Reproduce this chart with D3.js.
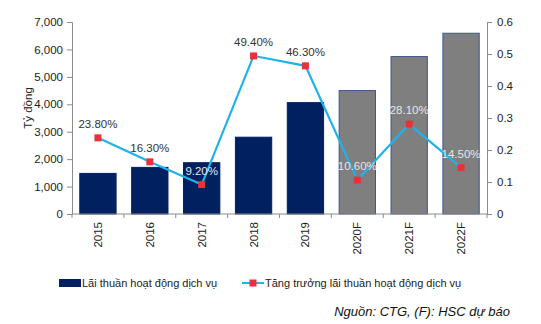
<!DOCTYPE html>
<html>
<head>
<meta charset="utf-8">
<script src="https://cdn.jsdelivr.net/npm/d3@7"></script>
<style>
  body { margin: 0; background: #fff; }
  svg { display: block; font-family: "Liberation Sans", Arial, sans-serif; }
</style>
</head>
<body>
<div class="chart"></div>
<script>
// years, service income (bn VND) and its growth rate
var years = ["2015", "2016", "2017", "2018", "2019", "2020F", "2021F", "2022F"];
var income = [1480, 1700, 1870, 2800, 4060, 4500, 5740, 6590];
var growth = [0.238, 0.163, 0.092, 0.494, 0.463, 0.106, 0.281, 0.145];
var growthLabels = ["23.80%", "16.30%", "9.20%", "49.40%", "46.30%", "10.60%", "28.10%", "14.50%"];
var leftTicks = [0, 1000, 2000, 3000, 4000, 5000, 6000, 7000];
var rightTicks = [0, 0.1, 0.2, 0.3, 0.4, 0.5, 0.6];

var W = 541, H = 324;
var m = {left: 72, right: 54, top: 22, bottom: 110};
var iw = W - m.left - m.right, ih = H - m.top - m.bottom;

var svg = d3.select(".chart").append("svg")
  .attr("width", W)
  .attr("height", H);

var g = svg.append("g").attr("transform", "translate(" + m.left + "," + m.top + ")");

var x = d3.scaleBand().domain(years).range([0, iw]).paddingInner(0.3).paddingOuter(0.15);
var y = d3.scaleLinear().domain([0, 7000]).range([ih, 0]);
var y2 = d3.scaleLinear().domain([0, 0.6]).range([ih, 0]);

var axisColor = "#8c8c8c";

// bars: actuals navy, forecasts gray
g.selectAll("rect.bar").data(years).enter().append("rect")
  .attr("class", "bar")
  .attr("x", function(d){ return x(d); })
  .attr("y", function(d, i){ return y(income[i]); })
  .attr("width", x.bandwidth())
  .attr("height", function(d, i){ return ih - y(income[i]); })
  .attr("fill", function(d){ return d.indexOf("F") > 0 ? "#7f7f7f" : "#002060"; })
  .attr("stroke", function(d){ return d.indexOf("F") > 0 ? "#3b5694" : "#002060"; })
  .attr("stroke-width", 1);

// left axis
var ya = g.append("g").call(d3.axisLeft(y).tickValues(leftTicks).tickSize(5).tickPadding(4).tickFormat(d3.format(",")));
ya.select(".domain").attr("stroke", axisColor);
ya.selectAll(".tick line").attr("stroke", axisColor);
ya.selectAll("text").attr("fill", "#222").style("font-size", "11.5px");

// right axis
var ya2 = g.append("g").attr("transform", "translate(" + iw + ",0)")
  .call(d3.axisRight(y2).tickValues(rightTicks).tickSize(5).tickPadding(5).tickFormat(function(d){ return d === 0 ? "0" : d3.format(".1f")(d); }));
ya2.select(".domain").attr("stroke", axisColor);
ya2.selectAll(".tick line").attr("stroke", axisColor);
ya2.selectAll("text").attr("fill", "#222").style("font-size", "11.5px");

// x axis: ticks sit between the bands
var xa = g.append("g").attr("transform", "translate(0," + ih + ")");
xa.append("line").attr("x1", 0).attr("x2", iw).attr("stroke", axisColor);
var step = x.step();
d3.range(years.length + 1).forEach(function(i){
  var xx = i * iw / years.length;
  xa.append("line").attr("x1", xx).attr("x2", xx).attr("y1", 0).attr("y2", 4).attr("stroke", axisColor);
});
xa.selectAll("text.yr").data(years).enter().append("text")
  .attr("class", "yr")
  .attr("transform", function(d){ return "translate(" + (x(d) + x.bandwidth() / 2 + 4) + ",8) rotate(-90)"; })
  .attr("text-anchor", "end")
  .attr("fill", "#222")
  .style("font-size", "11.5px")
  .text(function(d){ return d; });

// growth line
var line = d3.line()
  .x(function(d, i){ return x(years[i]) + x.bandwidth() / 2; })
  .y(function(d){ return y2(d); });
g.append("path").datum(growth)
  .attr("d", line)
  .attr("fill", "none")
  .attr("stroke", "#1fb3ea")
  .attr("stroke-width", 2.2);

g.selectAll("rect.pt").data(growth).enter().append("rect")
  .attr("class", "pt")
  .attr("x", function(d, i){ return x(years[i]) + x.bandwidth() / 2 - 3.5; })
  .attr("y", function(d){ return y2(d) - 3.5; })
  .attr("width", 7).attr("height", 7)
  .attr("fill", "#e8313b");

// value labels, light where they fall on a bar
g.selectAll("text.lbl").data(growth).enter().append("text")
  .attr("class", "lbl")
  .attr("x", function(d, i){ return x(years[i]) + x.bandwidth() / 2; })
  .attr("y", function(d){ return y2(d) - 10; })
  .attr("text-anchor", "middle")
  .attr("fill", function(d, i){ return y2(d) - 14 > y(income[i]) ? "#e6e6e6" : "#333"; })
  .style("font-size", "11.5px")
  .text(function(d, i){ return growthLabels[i]; });

// y axis title
svg.append("text")
  .attr("transform", "translate(32," + (m.top + ih / 2 - 10) + ") rotate(-90)")
  .attr("text-anchor", "middle")
  .attr("fill", "#222")
  .style("font-size", "11.5px")
  .text("Tỷ đồng");

// legend
var lg = svg.append("g").attr("transform", "translate(0,283)");
lg.append("rect").attr("x", 59).attr("y", -4).attr("width", 22).attr("height", 8).attr("fill", "#002060");
lg.append("text").attr("x", 82).attr("y", 4).attr("fill", "#222").style("font-size", "11px").text("Lãi thuần hoạt động dịch vụ");
lg.append("line").attr("x1", 242).attr("x2", 264).attr("y1", 0).attr("y2", 0).attr("stroke", "#1fb3ea").attr("stroke-width", 2);
lg.append("rect").attr("x", 249.5).attr("y", -3.5).attr("width", 7).attr("height", 7).attr("fill", "#e8313b");
lg.append("text").attr("x", 265).attr("y", 4).attr("fill", "#222").style("font-size", "11px").text("Tăng trưởng lãi thuần hoạt động dịch vụ");

// source note
svg.append("text")
  .attr("x", 510).attr("y", 316)
  .attr("text-anchor", "end")
  .attr("fill", "#111")
  .style("font-size", "13px")
  .style("font-style", "italic")
  .text("Nguồn: CTG, (F): HSC dự báo");
</script>
</body>
</html>
